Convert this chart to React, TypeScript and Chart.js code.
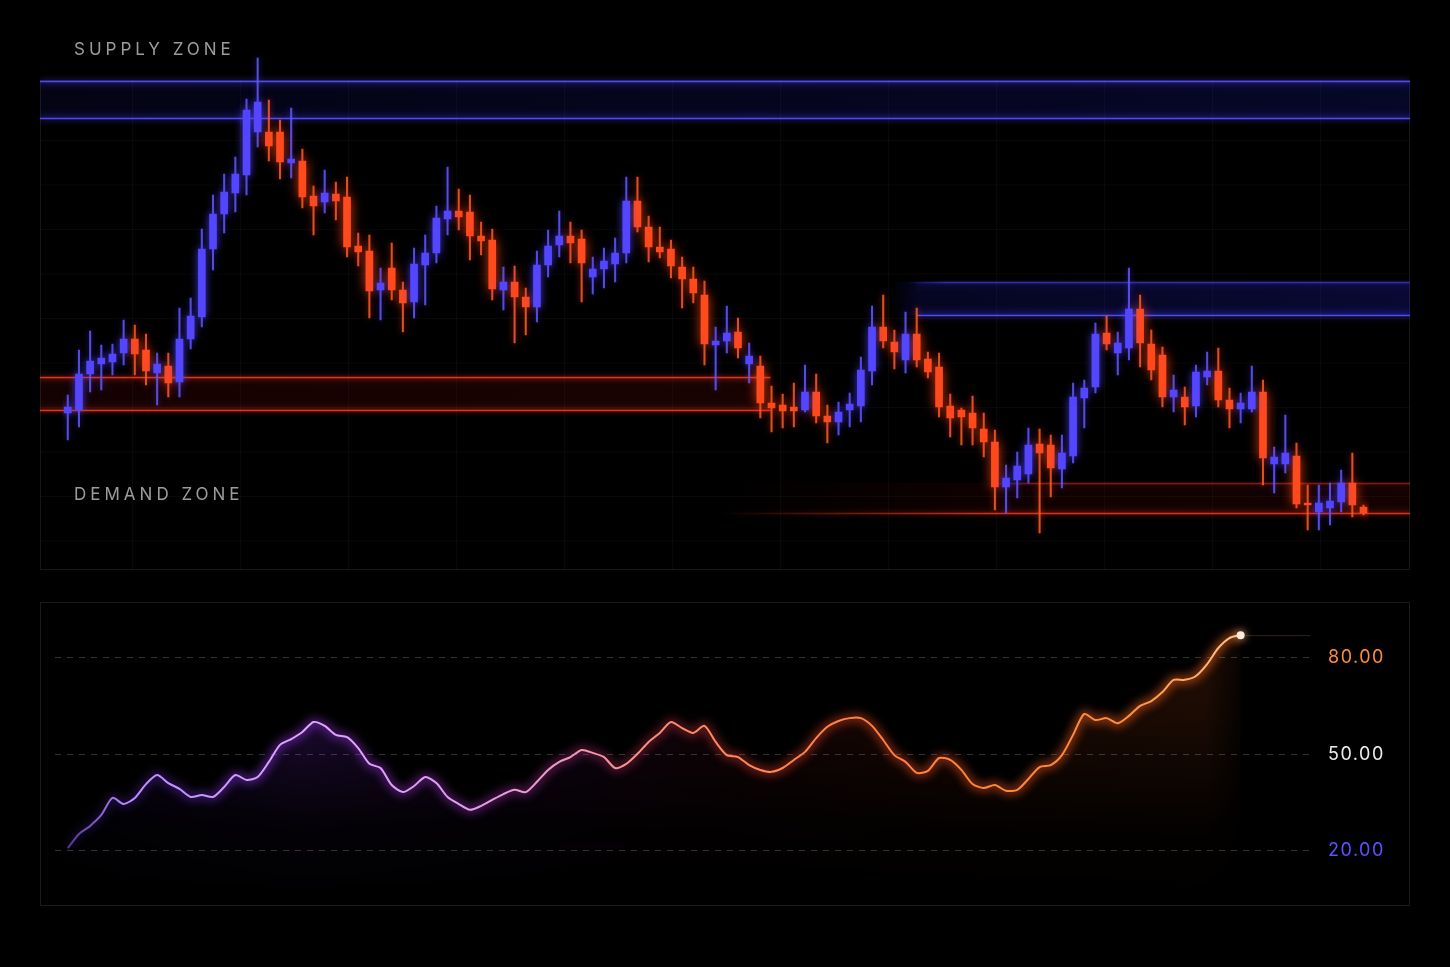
import React, { useEffect, useRef } from 'react';
import { Chart, registerables } from 'chart.js';

Chart.register(...registerables);

// ---------------- DATA ----------------
const candleOpen = [
  1157, 1160, 1196, 1206, 1208, 1217, 1231, 1220, 1197, 1204,
  1188, 1231, 1253, 1321, 1356, 1377, 1395, 1438, 1438, 1438,
  1407, 1409, 1374, 1368, 1376, 1373, 1324, 1319, 1280, 1302,
  1280, 1268, 1305, 1317, 1351, 1359, 1358, 1334, 1330, 1280,
  1288, 1273, 1263, 1305, 1325, 1334, 1331, 1293, 1301, 1306,
  1317, 1369, 1343, 1323, 1321, 1303, 1291, 1275, 1225, 1229,
  1238, 1206, 1204, 1167, 1165, 1163, 1160, 1178, 1154, 1148,
  1160, 1164, 1199, 1243, 1228, 1210, 1236, 1211, 1203, 1164,
  1160, 1157, 1141, 1128, 1083, 1090, 1096, 1126, 1125, 1101,
  1114, 1172, 1183, 1237, 1217, 1222, 1261, 1226, 1215, 1173,
  1173, 1164, 1193, 1199, 1170, 1161, 1161, 1178, 1106, 1106,
  1114, 1067, 1058, 1062, 1068, 1087, 1063,
];
const candleHigh = [
  1175, 1220, 1239, 1225, 1226, 1250, 1245, 1236, 1217, 1217,
  1262, 1272, 1341, 1375, 1396, 1413, 1471, 1512, 1470, 1450,
  1462, 1421, 1384, 1400, 1388, 1393, 1337, 1335, 1302, 1327,
  1288, 1322, 1335, 1364, 1403, 1381, 1375, 1348, 1341, 1303,
  1304, 1282, 1319, 1340, 1359, 1348, 1340, 1313, 1322, 1332,
  1393, 1393, 1354, 1343, 1330, 1313, 1303, 1289, 1243, 1264,
  1252, 1227, 1214, 1184, 1176, 1187, 1205, 1196, 1165, 1168,
  1177, 1213, 1264, 1275, 1240, 1258, 1262, 1218, 1217, 1176,
  1162, 1174, 1157, 1140, 1105, 1118, 1142, 1141, 1135, 1135,
  1187, 1190, 1247, 1254, 1238, 1302, 1275, 1240, 1223, 1195,
  1183, 1205, 1218, 1222, 1182, 1177, 1204, 1190, 1123, 1155,
  1127, 1085, 1085, 1087, 1100, 1117, 1065,
];
const candleLow = [
  1130, 1143, 1178, 1180, 1195, 1205, 1195, 1185, 1165, 1173,
  1173, 1221, 1243, 1300, 1337, 1358, 1375, 1423, 1409, 1391,
  1392, 1362, 1335, 1357, 1350, 1313, 1304, 1252, 1250, 1270,
  1238, 1252, 1265, 1307, 1335, 1340, 1310, 1315, 1270, 1260,
  1227, 1235, 1248, 1293, 1313, 1307, 1268, 1276, 1282, 1288,
  1307, 1338, 1308, 1312, 1292, 1262, 1267, 1205, 1180, 1217,
  1212, 1187, 1152, 1138, 1142, 1143, 1158, 1147, 1127, 1135,
  1143, 1148, 1185, 1222, 1201, 1197, 1203, 1192, 1153, 1133,
  1125, 1125, 1113, 1060, 1057, 1072, 1087, 1037, 1073, 1082,
  1107, 1142, 1177, 1220, 1195, 1210, 1203, 1190, 1163, 1158,
  1145, 1153, 1185, 1163, 1142, 1147, 1158, 1085, 1077, 1097,
  1062, 1040, 1040, 1045, 1058, 1053, 1055,
];
const candleClose = [
  1163, 1196, 1209, 1212, 1216, 1231, 1216, 1199, 1206, 1187,
  1231, 1254, 1321, 1356, 1378, 1396, 1460, 1468, 1424, 1408,
  1411, 1373, 1364, 1377, 1369, 1323, 1318, 1279, 1287, 1280,
  1267, 1306, 1317, 1352, 1359, 1353, 1334, 1329, 1281, 1288,
  1273, 1263, 1305, 1324, 1334, 1327, 1307, 1301, 1309, 1317,
  1369, 1343, 1323, 1318, 1304, 1291, 1277, 1226, 1229, 1237,
  1222, 1214, 1167, 1162, 1159, 1159, 1178, 1154, 1148, 1158,
  1166, 1200, 1243, 1229, 1218, 1236, 1210, 1198, 1163, 1152,
  1153, 1142, 1128, 1083, 1092, 1104, 1125, 1117, 1102, 1117,
  1173, 1182, 1236, 1226, 1227, 1261, 1227, 1200, 1173, 1180,
  1163, 1198, 1199, 1170, 1161, 1167, 1178, 1112, 1113, 1117,
  1066, 1065, 1067, 1069, 1087, 1065, 1057,
];
const candleLabels = candleOpen.map((_, i) => `Bar ${i + 1}`);

// zones: price band and the bar range it covers (fractional bar index)
const zoneKind = ['supply', 'supply', 'demand', 'demand'];
const zoneTop = [1489, 1288, 1193, 1087];
const zoneBottom = [1452, 1255, 1160, 1057];
const zoneFrom = [-10, 73.6, -10, 58.4];
const zoneSolidFrom = [-10, 76, -10, 83.5];
const zoneTo = [140, 140, 62.9, 140];

const rsiValues = [
  20.9, 25.3, 27.8, 31.2, 36.5, 34.6, 36.5, 40.8, 43.6, 41.1,
  39.3, 36.8, 37.4, 36.8, 39.9, 43.6, 42.1, 43.0, 47.7, 53.0,
  54.8, 57.0, 60.1, 58.9, 56.1, 55.4, 52.0, 47.1, 45.8, 40.5,
  38.3, 40.2, 43.0, 41.1, 36.8, 34.6, 32.8, 34.0, 35.9, 37.7,
  39.0, 38.3, 41.5, 45.2, 47.7, 49.2, 51.4, 50.5, 49.2, 45.8,
  47.1, 50.2, 53.9, 56.7, 60.1, 58.2, 56.7, 58.9, 53.9, 49.8,
  49.2, 46.7, 45.2, 44.6, 45.8, 48.3, 50.8, 55.1, 58.6, 60.4,
  61.3, 61.3, 58.9, 54.5, 49.8, 47.7, 44.3, 44.9, 48.9, 48.3,
  45.2, 40.8, 39.6, 40.5, 38.7, 39.0, 42.4, 46.1, 46.7, 49.8,
  56.1, 62.6, 60.7, 61.3, 59.7, 62.0, 65.1, 66.6, 69.4, 73.2,
  73.2, 74.4, 78.1, 83.1, 86.2, 87.1,
];
const rsiTicks = [20, 50, 80];
const rsiTickColors = ['#5b53ff', '#ececec', '#ff8a3d'];

// ---------------- STYLES ----------------
const UP = '#5446ff';
const DOWN = '#ff4a1e';
const UP_WICK = 'rgba(100,88,255,0.85)';
const DOWN_WICK = 'rgba(255,92,44,0.85)';

const zoneStyles = [
  { fillA: 0.1, fillB: 0.2, topLine: 1, bottomLine: 1, bottomFrom: 'from' },
  { fillA: 0.17, fillB: 0.26, topLine: 0.45, bottomLine: 1, bottomFrom: 'solid' },
  { fillA: 0.13, fillB: 0.16, topLine: 0.95, bottomLine: 0.95, bottomFrom: 'from' },
  { fillA: 0.1, fillB: 0.13, topLine: 0.35, bottomLine: 0.9, bottomFrom: 'from' },
];

const LINE_STOPS: [number, string][] = [
  [0, 'rgba(140,100,230,0.55)'],
  [0.05, '#b98aff'],
  [0.2, '#e0a4ff'],
  [0.33, '#e29cf2'],
  [0.43, '#f09ab8'],
  [0.52, '#ff8a6a'],
  [0.7, '#ff8040'],
  [0.9, '#ff8e3a'],
  [1, '#ffc48e'],
];
const GLOW_STOPS: [number, string][] = [
  [0, 'rgba(110,50,255,0.15)'],
  [0.15, 'rgba(150,60,255,0.55)'],
  [0.35, 'rgba(190,60,230,0.45)'],
  [0.5, 'rgba(240,60,90,0.4)'],
  [0.6, 'rgba(255,70,40,0.5)'],
  [1, 'rgba(255,110,30,0.65)'],
];
const FILL_STOPS: [number, string][] = [
  [0, 'rgba(90,40,210,0.12)'],
  [0.2, 'rgba(130,50,230,0.3)'],
  [0.4, 'rgba(110,30,150,0.22)'],
  [0.55, 'rgba(130,25,50,0.2)'],
  [0.75, 'rgba(190,60,20,0.18)'],
  [0.97, 'rgba(240,100,30,0.16)'],
  [1, 'rgba(240,100,30,0.04)'],
];

// ---------------- PLUGINS ----------------
const glowPlugin = {
  id: 'glow',
  beforeDatasetDraw(chart: any, args: any) {
    const ds = chart.data.datasets[args.index];
    if (ds.glowColor || ds.blur) {
      chart.ctx.save();
      if (ds.glowColor) {
        chart.ctx.shadowColor = ds.glowColor;
        chart.ctx.shadowBlur = ds.glowBlur || 10;
      }
      if (ds.blur) chart.ctx.filter = `blur(${ds.blur}px)`;
    }
  },
  afterDatasetDraw(chart: any, args: any) {
    const ds = chart.data.datasets[args.index];
    if (ds.glowColor || ds.blur) chart.ctx.restore();
  },
};

function drawLine(ctx: CanvasRenderingContext2D, x0: number, x1: number, y: number, color: string, alpha: number, fadeTo: number, glow: string) {
  const g = ctx.createLinearGradient(x0, 0, x1, 0);
  const f = x1 > x0 ? Math.min(1, Math.max(0, (fadeTo - x0) / (x1 - x0))) : 0;
  g.addColorStop(0, f > 0 ? `rgba(${color},0)` : `rgba(${color},${alpha})`);
  g.addColorStop(f, `rgba(${color},${alpha})`);
  g.addColorStop(1, `rgba(${color},${alpha})`);
  ctx.save();
  ctx.strokeStyle = g;
  ctx.lineWidth = 1.5;
  ctx.shadowColor = glow;
  ctx.shadowBlur = 6 * alpha;
  ctx.beginPath();
  ctx.moveTo(x0, y + 0.5);
  ctx.lineTo(x1, y + 0.5);
  ctx.stroke();
  ctx.restore();
}

const zonePlugin = {
  id: 'zones',
  beforeDatasetsDraw(chart: any) {
    const { ctx, width, height } = chart;
    const xs = chart.scales.x;
    const ys = chart.scales.y;
    const clamp = (v: number) => Math.max(0, Math.min(width, v));
    // faint grid
    ctx.save();
    ctx.strokeStyle = 'rgba(255,255,255,0.03)';
    ctx.lineWidth = 1;
    for (let gx = 848 - 108 * 8; gx < width; gx += 108) {
      if (gx <= 0) continue;
      ctx.beginPath();
      ctx.moveTo(gx + 0.5, 40);
      ctx.lineTo(gx + 0.5, height);
      ctx.stroke();
    }
    for (let gy = 100; gy < height; gy += 44.5) {
      ctx.beginPath();
      ctx.moveTo(0, gy + 0.5);
      ctx.lineTo(width, gy + 0.5);
      ctx.stroke();
    }
    ctx.restore();

    zoneKind.forEach((kind, k) => {
      const st = zoneStyles[k];
      const x0 = clamp(xs.getPixelForValue(zoneFrom[k]));
      const xsd = clamp(xs.getPixelForValue(zoneSolidFrom[k]));
      const x1 = clamp(xs.getPixelForValue(zoneTo[k]));
      const yt = Math.round(ys.getPixelForValue(zoneTop[k]));
      const yb = Math.round(ys.getPixelForValue(zoneBottom[k]));
      const rgb = kind === 'supply' ? '34,34,200' : '150,18,8';
      const lineRgb = kind === 'supply' ? '80,72,255' : '238,52,32';
      const glow = kind === 'supply' ? 'rgba(80,72,255,0.9)' : 'rgba(238,52,32,0.9)';
      const f = x1 > x0 ? (xsd - x0) / (x1 - x0) : 0;
      const g = ctx.createLinearGradient(x0, 0, x1, 0);
      g.addColorStop(0, f > 0 ? `rgba(${rgb},0)` : `rgba(${rgb},${st.fillA})`);
      g.addColorStop(Math.max(0, Math.min(1, f)), `rgba(${rgb},${st.fillA})`);
      g.addColorStop(1, `rgba(${rgb},${st.fillB})`);
      ctx.save();
      ctx.fillStyle = g;
      ctx.fillRect(x0, yt, x1 - x0, yb - yt);
      // soft inner glow near the band edges
      const vg = ctx.createLinearGradient(0, yt, 0, yb);
      vg.addColorStop(0, `rgba(${rgb},${st.fillA * 0.8})`);
      vg.addColorStop(0.3, `rgba(${rgb},0)`);
      vg.addColorStop(0.7, `rgba(${rgb},0)`);
      vg.addColorStop(1, `rgba(${rgb},${st.fillA * 0.8})`);
      ctx.fillStyle = vg;
      ctx.fillRect(f > 0 ? xsd : x0, yt, x1 - (f > 0 ? xsd : x0), yb - yt);
      ctx.restore();
      drawLine(ctx, f > 0 ? xsd - 10 : x0, x1, yt, lineRgb, st.topLine, f > 0 ? xsd + 30 : x0, glow);
      const bFrom = st.bottomFrom === 'solid' ? xsd : x0;
      drawLine(ctx, bFrom, x1, yb, lineRgb, st.bottomLine, f > 0 ? xsd : x0, glow);
    });
  },
};

const rsiPlugin = {
  id: 'rsiExtras',
  beforeDraw(chart: any) {
    chart.ctx.letterSpacing = '1.5px';
  },
  afterDatasetsDraw(chart: any) {
    const meta = chart.getDatasetMeta(0);
    const pt = meta.data[meta.data.length - 1];
    if (!pt) return;
    const { ctx, chartArea } = chart;
    ctx.save();
    ctx.strokeStyle = 'rgba(255,170,120,0.2)';
    ctx.lineWidth = 1;
    ctx.beginPath();
    ctx.moveTo(pt.x + 5, pt.y + 0.5);
    ctx.lineTo(chartArea.right, pt.y + 0.5);
    ctx.stroke();
    ctx.shadowColor = 'rgba(255,190,140,0.9)';
    ctx.shadowBlur = 8;
    ctx.fillStyle = '#ffeadc';
    ctx.beginPath();
    ctx.arc(pt.x, pt.y, 4, 0, Math.PI * 2);
    ctx.fill();
    ctx.restore();
  },
};

// ---------------- HELPERS ----------------
function hGradient(chart: any, stops: [number, string][]) {
  const xs = chart.scales.x;
  const x0 = xs.getPixelForValue(0);
  const x1 = xs.getPixelForValue(rsiValues.length - 1);
  const g = chart.ctx.createLinearGradient(x0, 0, x1, 0);
  stops.forEach(([o, c]) => g.addColorStop(o, c));
  return g;
}

function fillPattern(chart: any) {
  const { width, height, chartArea } = chart;
  const off = document.createElement('canvas');
  off.width = width;
  off.height = height;
  const o = off.getContext('2d') as CanvasRenderingContext2D;
  const xs = chart.scales.x;
  const x0 = xs.getPixelForValue(0);
  const x1 = xs.getPixelForValue(rsiValues.length - 1);
  const g = o.createLinearGradient(x0, 0, x1, 0);
  FILL_STOPS.forEach(([s, c]) => g.addColorStop(s, c));
  o.fillStyle = g;
  o.fillRect(0, 0, width, height);
  o.globalCompositeOperation = 'destination-in';
  const v = o.createLinearGradient(0, chartArea.top + 20, 0, chartArea.bottom);
  v.addColorStop(0, 'rgba(0,0,0,1)');
  v.addColorStop(0.35, 'rgba(0,0,0,0.65)');
  v.addColorStop(0.72, 'rgba(0,0,0,0.1)');
  v.addColorStop(1, 'rgba(0,0,0,0)');
  o.fillStyle = v;
  o.fillRect(0, 0, width, height);
  return chart.ctx.createPattern(off, 'no-repeat');
}

// ---------------- CHARTS ----------------
function PriceChart() {
  const ref = useRef<HTMLCanvasElement | null>(null);
  useEffect(() => {
    if (!ref.current) return;
    const isUp = candleClose.map((c, i) => c >= candleOpen[i]);
    const chart = new Chart(ref.current, {
      type: 'bar',
      data: {
        labels: candleLabels,
        datasets: [
          {
            label: 'up body',
            data: candleOpen.map((o, i) => (isUp[i] ? [o, candleClose[i]] : null)),
            backgroundColor: UP,
            barThickness: 7,
            grouped: false,
            order: 0,
            glowColor: 'rgba(84,70,255,0.75)',
            glowBlur: 9,
          } as any,
          {
            label: 'down body',
            data: candleOpen.map((o, i) => (!isUp[i] ? [candleClose[i], o] : null)),
            backgroundColor: DOWN,
            barThickness: 7,
            grouped: false,
            order: 0,
            glowColor: 'rgba(255,70,20,0.85)',
            glowBlur: 12,
          } as any,
          {
            label: 'up wick',
            data: candleLow.map((l, i) => (isUp[i] ? [l, candleHigh[i]] : null)),
            backgroundColor: UP_WICK,
            barThickness: 1.4,
            grouped: false,
            order: 1,
            glowColor: 'rgba(84,70,255,0.6)',
            glowBlur: 6,
          } as any,
          {
            label: 'down wick',
            data: candleLow.map((l, i) => (!isUp[i] ? [l, candleHigh[i]] : null)),
            backgroundColor: DOWN_WICK,
            barThickness: 1.4,
            grouped: false,
            order: 1,
            glowColor: 'rgba(255,70,20,0.7)',
            glowBlur: 6,
          } as any,
        ],
      },
      options: {
        animation: false,
        responsive: false,
        maintainAspectRatio: false,
        layout: { padding: { left: 22.2, right: 40.9, top: 0, bottom: 0 } },
        plugins: { legend: { display: false }, tooltip: { enabled: false } },
        scales: {
          x: { display: false, offset: true },
          y: { display: false, min: 1000, max: 1530 },
        },
      },
      plugins: [zonePlugin, glowPlugin],
    });
    return () => chart.destroy();
  }, []);
  return (
    <canvas
      ref={ref}
      width={1370}
      height={530}
      style={{ position: 'absolute', left: 40, top: 40, width: 1370, height: 530 }}
    />
  );
}

function RsiChart() {
  const ref = useRef<HTMLCanvasElement | null>(null);
  useEffect(() => {
    if (!ref.current) return;
    const pts = rsiValues.map((v, i) => ({ x: i, y: v }));
    const chart = new Chart(ref.current, {
      type: 'line',
      data: {
        datasets: [
          {
            label: 'RSI',
            data: pts,
            borderWidth: 2,
            borderColor: (c: any) => (c.chart.chartArea ? hGradient(c.chart, LINE_STOPS) : '#e0a0ff'),
            pointRadius: 0,
            fill: false,
            tension: 0.25,
            order: 0,
          } as any,
          {
            label: 'RSI glow',
            data: pts,
            borderWidth: 7,
            borderColor: (c: any) => (c.chart.chartArea ? hGradient(c.chart, GLOW_STOPS) : 'rgba(160,60,255,0.4)'),
            pointRadius: 0,
            fill: false,
            tension: 0.25,
            order: 1,
            blur: 5,
          } as any,
          {
            label: 'RSI area',
            data: pts,
            borderWidth: 0,
            borderColor: 'rgba(0,0,0,0)',
            backgroundColor: (c: any) => (c.chart.chartArea ? fillPattern(c.chart) : 'rgba(120,50,200,0.2)'),
            pointRadius: 0,
            fill: 'start',
            tension: 0.25,
            order: 2,
          } as any,
        ],
      },
      options: {
        animation: false,
        responsive: false,
        maintainAspectRatio: false,
        layout: { padding: { left: 15, right: 0, top: 0, bottom: 0 } },
        plugins: { legend: { display: false }, tooltip: { enabled: false } },
        scales: {
          x: { type: 'linear', display: false, min: -1.146, max: 111.21 },
          y: {
            position: 'right',
            min: 2.9,
            max: 97.4,
            afterFit: (s: any) => {
              s.width = 100;
              s.paddingTop = 0;
              s.paddingBottom = 0;
            },
            afterBuildTicks: (s: any) => {
              s.ticks = rsiTicks.map((v) => ({ value: v }));
            },
            grid: { color: 'rgba(255,255,255,0.2)', drawTicks: false, lineWidth: 1 },
            border: { display: false, dash: [6, 6] },
            ticks: {
              padding: 18,
              color: (c: any) => {
                const idx = rsiTicks.indexOf(c.tick ? c.tick.value : -1);
                return idx >= 0 ? rsiTickColors[idx] : '#ccc';
              },
              font: { family: 'Inter', size: 18 },
              callback: (v: any) => Number(v).toFixed(2),
            },
          },
        },
      },
      plugins: [glowPlugin, rsiPlugin],
    });
    return () => chart.destroy();
  }, []);
  return (
    <canvas
      ref={ref}
      width={1370}
      height={304}
      style={{ position: 'absolute', left: 40, top: 602, width: 1370, height: 304 }}
    />
  );
}

const zoneLabel: React.CSSProperties = {
  position: 'absolute',
  left: 74,
  fontFamily: 'Inter, "Noto Sans", sans-serif',
  fontSize: 17,
  lineHeight: '18px',
  letterSpacing: '4px',
  color: '#9c9c9c',
  whiteSpace: 'nowrap',
};

export default function App() {
  return (
    <div style={{ position: 'fixed', inset: 0, background: '#000', overflow: 'hidden' }}>
      <div
        style={{
          position: 'absolute',
          left: 40,
          top: 80,
          width: 1370,
          height: 490,
          border: '1px solid #171717',
          boxSizing: 'border-box',
        }}
      />
      <div
        style={{
          position: 'absolute',
          left: 40,
          top: 602,
          width: 1370,
          height: 304,
          border: '1px solid #1a1a1a',
          boxSizing: 'border-box',
        }}
      />
      <PriceChart />
      <RsiChart />
      <div style={{ ...zoneLabel, top: 40 }}>SUPPLY ZONE</div>
      <div style={{ ...zoneLabel, top: 485 }}>DEMAND ZONE</div>
    </div>
  );
}
